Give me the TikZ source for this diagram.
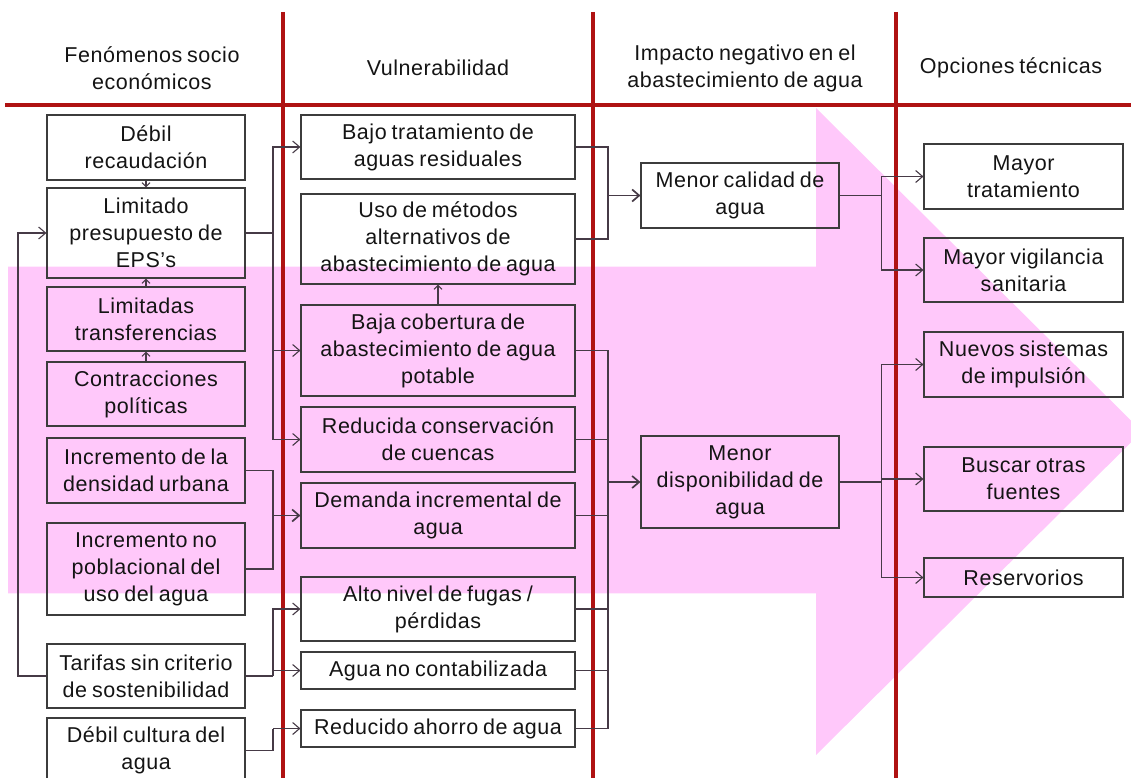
\documentclass[tikz,border=0pt]{standalone}
\usepackage{fontspec}
\setmainfont{Liberation Sans}[LetterSpace=2.5,WordSpace=0.75]
\usetikzlibrary{arrows.meta}
\definecolor{pinkA}{RGB}{255,200,250}
\definecolor{redL}{RGB}{175,18,18}
\definecolor{boxG}{RGB}{60,60,60}
\definecolor{connG}{RGB}{70,58,70}
\begin{document}
\begin{tikzpicture}[x=1pt,y=-1pt,
  txt/.style={font=\fontsize{21.5}{27}\selectfont, text=black!92, align=center},
  box/.style={txt, draw=boxG, line width=1.1pt, inner sep=0pt},
  hdr/.style={txt, inner sep=0pt},
  redline/.style={draw=redL, line width=3.5pt},
  conn/.style={draw=connG, line width=1.1pt},
  arr/.style={conn, -{Straight Barb[length=7pt,width=12pt]}},
  arrs/.style={conn, -{Straight Barb[length=4pt,width=8pt]}},
  thk/.style={line width=1.7pt}]
\useasboundingbox (0,0) rectangle (1131,778);
\clip (0,0) rectangle (1131,778);
% big pink arrow
\fill[pinkA] (8,266.7) -- (816,266.7) -- (816,108) -- (1142,431.5) -- (816,755) -- (816,593.3) -- (8,593.3) -- cycle;
% red grid
\draw[redline] (5,105) -- (1131,105);
\draw[redline] (283,12) -- (283,778);
\draw[redline] (593,12) -- (593,778);
\draw[redline] (896,12) -- (896,778);
% headers
\node[hdr] (h1) at (152,68) {Fenómenos socio\\económicos};
\node[hdr] (h2) at (438,68) {Vulnerabilidad};
\node[hdr] (h3) at (745,68) {Impacto negativo en el\\abastecimiento de agua};
\node[hdr] (h4) at (1011,68) {Opciones técnicas};
% left column
\node[box, minimum width=198, minimum height=65] (n1) at (146,147.5) {Débil\\recaudación};
\node[box, minimum width=198, minimum height=90] (n2) at (146,233) {Limitado\\presupuesto de\\EPS’s};
\node[box, minimum width=198, minimum height=64] (n3) at (146,319) {Limitadas\\transferencias};
\node[box, minimum width=198, minimum height=64] (n4) at (146,394) {Contracciones\\políticas};
\node[box, minimum width=198, minimum height=65] (n5) at (146,470.5) {Incremento de la\\densidad urbana};
\node[box, minimum width=198, minimum height=92] (n6) at (146,569) {Incremento no\\poblacional del\\uso del agua};
\node[box, minimum width=198, minimum height=64] (n7) at (146,676) {Tarifas sin criterio\\de sostenibilidad};
\node[box, minimum width=198, minimum height=65] (n8) at (146,750.5) {Débil cultura del\\agua};
% middle column
\node[box, minimum width=274, minimum height=64] (a) at (438,147) {Bajo tratamiento de\\aguas residuales};
\node[box, minimum width=274, minimum height=90] (b) at (438,239) {Uso de métodos\\alternativos de\\abastecimiento de agua};
\node[box, minimum width=274, minimum height=91] (c) at (438,350.5) {Baja cobertura de\\abastecimiento de agua\\potable};
\node[box, minimum width=274, minimum height=65] (d) at (438,439.5) {Reducida conservación\\de cuencas};
\node[box, minimum width=274, minimum height=65] (e) at (438,515.5) {Demanda incremental de\\agua};
\node[box, minimum width=274, minimum height=64] (f) at (438,609) {Alto nivel de fugas /\\pérdidas};
\node[box, minimum width=274, minimum height=37] (g) at (438,670.5) {Agua no contabilizada};
\node[box, minimum width=274, minimum height=37] (h) at (438,728.5) {Reducido ahorro de agua};
% impact column
\node[box, minimum width=198, minimum height=65] (m1) at (740,195.5) {Menor calidad de\\agua};
\node[box, minimum width=198, minimum height=92] (m2) at (740,482) {Menor\\disponibilidad de\\agua};
% right column
\node[box, minimum width=199, minimum height=65] (r1) at (1023.5,176.5) {Mayor\\tratamiento};
\node[box, minimum width=199, minimum height=64] (r2) at (1023.5,270) {Mayor vigilancia\\sanitaria};
\node[box, minimum width=199, minimum height=65] (r3) at (1023.5,364.5) {Nuevos sistemas\\de impulsión};
\node[box, minimum width=199, minimum height=64] (r4) at (1023.5,479) {Buscar otras\\fuentes};
\node[box, minimum width=199, minimum height=39] (r5) at (1023.5,577.5) {Reservorios};
% junction columns
\coordinate (xLL) at (18,0);
\coordinate (xL) at (273,0);
\coordinate (xM) at (608,0);
\coordinate (xR) at (881.7,0);
% left connectors
\draw[arrs] (n1.south) -- (n2.north);
\draw[arrs] (n3.north) -- (n2.south);
\draw[arrs] (n4.north) -- (n3.south);
\draw[arr] (n7.west) -- (xLL |- n7.west) |- (n2.west);
\draw[conn] (n2.east) -- (xL |- n2.east);
\draw[arr] (xL |- n2.east) |- (a.west);
\draw[arr] (xL |- n2.east) |- (c.west);
\draw[arr] (xL |- n2.east) |- (d.west);
\draw[conn] (n5.east) -| (xL |- e.west);
\draw[conn] (n6.east) -| (xL |- e.west);
\draw[arr,thk] (xL |- e.west) -- (e.west);
\draw[conn,thk] (n7.east) -- (xL |- n7.east);
\draw[arr] (xL |- n7.east) |- (f.west);
\draw[arr] (xL |- n7.east) |- (g.west);
\draw[conn] (n8.east) -| (xL |- h.west);
\draw[arr] (xL |- h.west) -- (h.west);
% middle connectors
\draw[arrs] (c.north) -- (b.south);
\draw[conn] (a.east) -| (xM |- m1.west);
\draw[conn] (b.east) -| (xM |- m1.west);
\draw[arr,thk] (xM |- m1.west) -- (m1.west);
\draw[conn] (c.east) -| (xM |- m2.west);
\draw[conn] (d.east) -| (xM |- m2.west);
\draw[conn] (e.east) -| (xM |- m2.west);
\draw[conn] (f.east) -| (xM |- m2.west);
\draw[conn] (g.east) -| (xM |- m2.west);
\draw[conn] (h.east) -| (xM |- m2.west);
\draw[arr,thk] (xM |- m2.west) -- (m2.west);
% right connectors
\draw[conn] (m1.east) -- (xR |- m1.east);
\draw[arr] (xR |- m1.east) |- (r1.west);
\draw[arr] (xR |- m1.east) |- (r2.west);
\draw[conn,thk] (m2.east) -- (xR |- m2.east);
\draw[arr] (xR |- m2.east) |- (r3.west);
\draw[arr] (xR |- m2.east) |- (r4.west);
\draw[arr] (xR |- m2.east) |- (r5.west);
\end{tikzpicture}
\end{document}
